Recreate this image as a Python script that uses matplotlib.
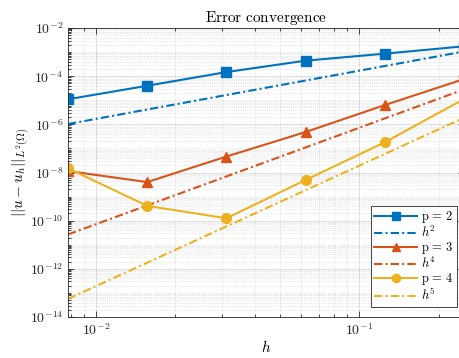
import matplotlib
matplotlib.use("Agg")
import matplotlib.pyplot as plt
from matplotlib.ticker import NullFormatter

plt.rcParams["mathtext.fontset"] = "cm"
plt.rcParams["font.family"] = "serif"
plt.rcParams["font.serif"] = ["cmr10", "DejaVu Serif"]
plt.rcParams["axes.formatter.use_mathtext"] = True

# mesh sizes
h = [1/128, 1/64, 1/32, 1/16, 1/8, 1/4]

# L2 errors for each polynomial degree
err_p2 = [1.1e-5, 4.0e-5, 1.48e-4, 4.4e-4, 8.6e-4, 1.74e-3]
err_p3 = [1.15e-8, 4.0e-9, 4.6e-8, 4.8e-7, 6.3e-6, 7.6e-5]
err_p4 = [1.5e-8, 4.1e-10, 1.26e-10, 4.9e-9, 1.8e-7, 1.12e-5]

# reference slopes
ref_h2 = [1.03e-6, 4.13e-6, 1.65e-5, 6.6e-5, 2.64e-4, 1.06e-3]
ref_h4 = [2.68e-11, 4.29e-10, 6.87e-9, 1.10e-7, 1.76e-6, 2.81e-5]
ref_h5 = [5.62e-14, 1.80e-12, 5.76e-11, 1.84e-9, 5.89e-8, 1.88e-6]

labels = [r"$\mathrm{p}\,=\,2$", r"$h^2$", r"$\mathrm{p}\,=\,3$", r"$h^4$",
          r"$\mathrm{p}\,=\,4$", r"$h^5$"]

c_blue = "#0072BD"
c_red = "#D95319"
c_yel = "#EDB120"
dashdot = (0, (4, 1.5, 1.0, 1.5))

fig = plt.figure(figsize=(4.59, 3.58), dpi=100)
ax = fig.add_axes([68/459, 41/358, (464-68)/459, (317-28)/358])

lw = 1.5
ax.loglog(h, err_p2, color=c_blue, lw=lw, marker="s", ms=6.5, label=labels[0])
ax.loglog(h, ref_h2, color=c_blue, lw=lw, ls=dashdot, label=labels[1])
ax.loglog(h, err_p3, color=c_red, lw=lw, marker="^", ms=7, label=labels[2])
ax.loglog(h, ref_h4, color=c_red, lw=lw, ls=dashdot, label=labels[3])
ax.loglog(h, err_p4, color=c_yel, lw=lw, marker="o", ms=7, label=labels[4])
ax.loglog(h, ref_h5, color=c_yel, lw=lw, ls=dashdot, label=labels[5])

ax.set_xlim(1/128, 1/4)
ax.set_ylim(1e-14, 1e-2)
ax.set_yticks([10.0**k for k in range(-14, -1, 2)])
ax.set_yticks([10.0**k * s for k in range(-14, -2) for s in range(1, 10)
               if not (s == 1 and k % 2 == 0)], minor=True)
ax.yaxis.set_minor_formatter(NullFormatter())

ax.grid(True, which="major", color="#262626", alpha=0.15, lw=0.6)
ax.grid(True, which="minor", color="#262626", alpha=0.22, lw=0.5, ls=":")
ax.set_axisbelow(True)

for s in ax.spines.values():
    s.set_color("#262626")
    s.set_linewidth(0.6)
ax.tick_params(which="both", direction="in", top=True, right=True,
               colors="#262626", labelsize=10, width=0.6)
ax.tick_params(which="major", length=4)
ax.tick_params(which="minor", length=2.2)

ax.set_title(r"$\mathrm{Error\ convergence}$", fontsize=11, pad=4)
ax.set_xlabel(r"$h$", fontsize=11, labelpad=1)
ax.set_ylabel(r"$||u-u_h||_{L^2(\Omega)}$", fontsize=11, labelpad=-2)

leg = ax.legend(loc="lower right", bbox_to_anchor=((457-68)/(464-68), (317-307)/(317-28)),
                fontsize=9, fancybox=False, framealpha=1, edgecolor="#262626",
                handlelength=3.4, handletextpad=0.3, borderpad=0.3, labelspacing=0.0,
                borderaxespad=0, markerscale=0.85)
leg.get_frame().set_linewidth(0.6)

fig.savefig("out.png", dpi=100)
